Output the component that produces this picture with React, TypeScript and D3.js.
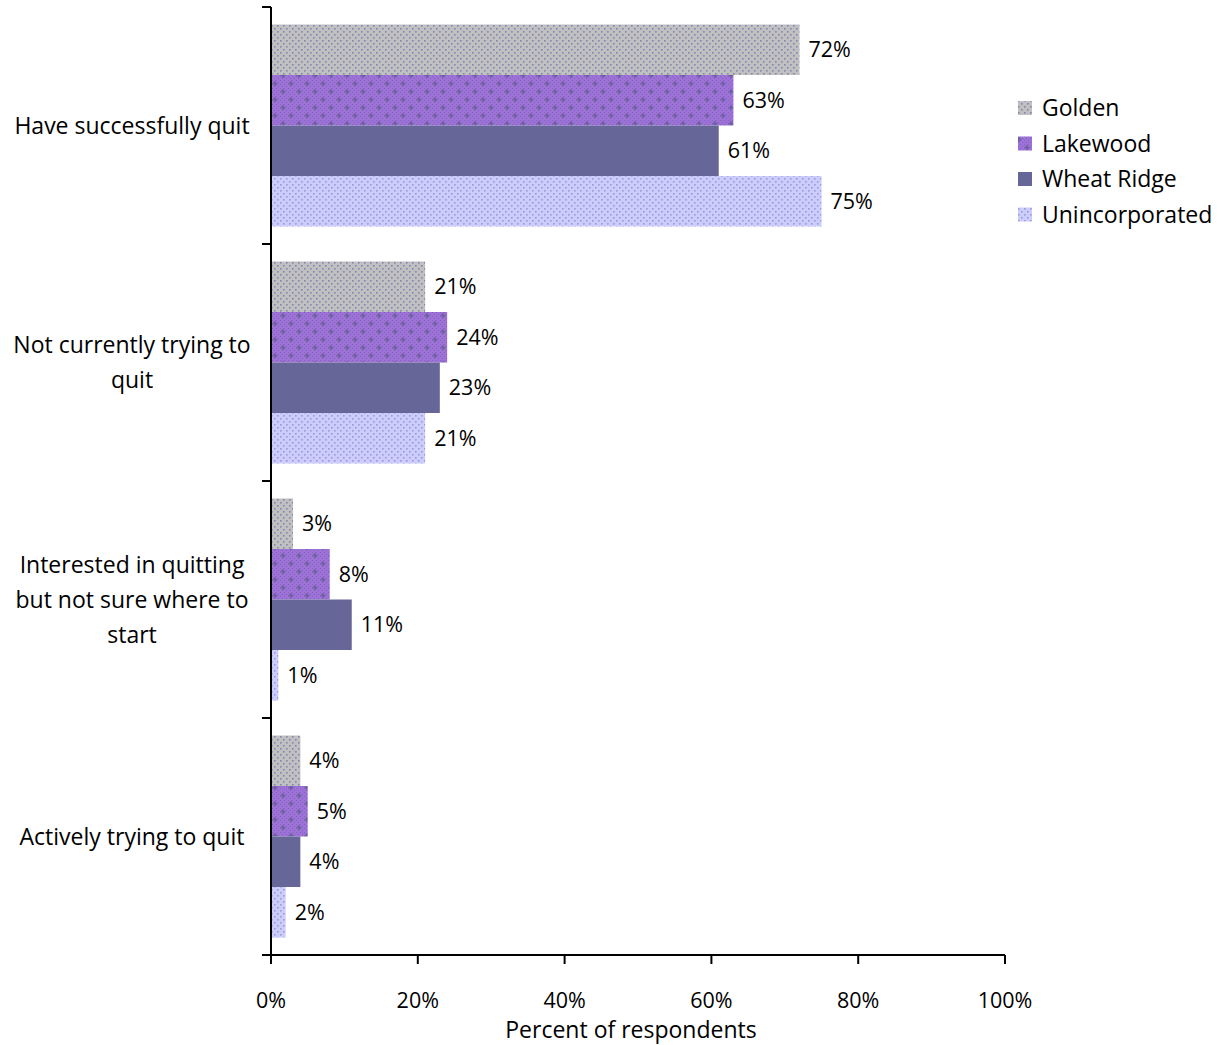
import React from "react";
import * as d3 from "d3";

const categories = [
  ["Have successfully quit"],
  ["Not currently trying to", "quit"],
  ["Interested in quitting", "but not sure where to", "start"],
  ["Actively trying to quit"],
];
const seriesNames = ["Golden", "Lakewood", "Wheat Ridge", "Unincorporated"];
const golden = [72, 21, 3, 4];
const lakewood = [63, 24, 8, 5];
const wheatRidge = [61, 23, 11, 4];
const unincorporated = [75, 21, 1, 2];
const xTicks = [0, 20, 40, 60, 80, 100];

const seriesValues = [golden, lakewood, wheatRidge, unincorporated];
const fills = ["url(#pGolden)", "url(#pLakewood)", "#666699", "url(#pUninc)"];

const FONT = "'Open Sans', sans-serif";
const TXT = 23;
const NUM = 21.5;

export default function App() {
  const W = 1223, H = 1045;
  const x0 = 271, x1 = 1005, yTop = 7, yBot = 955;
  const x = d3.scaleLinear().domain([0, 100]).range([x0, x1]);
  const y = d3.scaleBand<number>().domain(d3.range(categories.length)).range([yTop, yBot]).paddingInner(0).paddingOuter(0);
  const bw = y.bandwidth();
  const groupPad = 17.5;
  const inner = d3.scaleBand<number>().domain(d3.range(seriesNames.length)).range([groupPad, bw - groupPad]).padding(0);
  const bh = inner.bandwidth();

  return (
    <svg width={W} height={H} style={{ position: "absolute", left: 0, top: 0, background: "#fff" }} fontFamily={FONT}>
      <defs>
        <pattern id="pGolden" width="6" height="6" patternUnits="userSpaceOnUse">
          <rect width="6" height="6" fill="#c0c0c0" />
          <rect x="1" y="1" width="1.6" height="1.6" fill="#8585b5" />
          <rect x="4" y="4" width="1.6" height="1.6" fill="#8585b5" />
        </pattern>
        <pattern id="pLakewood" width="16" height="16" patternUnits="userSpaceOnUse">
          <rect width="16" height="16" fill="#9c72d6" />
          {d3.range(8).flatMap((i) => d3.range(8).map((j) => ((i + j) % 2 === 0 ? <rect key={`${i}-${j}`} x={i * 2} y={j * 2} width="1" height="1" fill="#8a5fc2" /> : null)))}
          <path d="M3 1v5M0.5 3.5h5M11 9v5M8.5 11.5h5" stroke="#6b5f9f" strokeWidth="1.5" />
        </pattern>
        <pattern id="pUninc" width="6" height="6" patternUnits="userSpaceOnUse">
          <rect width="6" height="6" fill="#ccccff" />
          <rect x="1" y="1" width="1.6" height="1.6" fill="#9a9acc" />
          <rect x="4" y="4" width="1.6" height="1.6" fill="#9a9acc" />
        </pattern>
      </defs>

      {categories.map((_, ci) =>
        seriesValues.map((vals, si) => {
          const by = (y(ci) as number) + (inner(si) as number);
          return (
            <g key={`${ci}-${si}`}>
              <rect x={x(0)} y={by} width={x(vals[ci]) - x(0)} height={bh} fill={fills[si]} />
              <text x={x(vals[ci]) + 9} y={by + bh / 2} dy="0.35em" fontSize={NUM} fill="#000">
                {vals[ci]}%
              </text>
            </g>
          );
        })
      )}

      {/* y axis */}
      <line x1={x0} x2={x0} y1={yTop} y2={yBot} stroke="#000" strokeWidth={2} />
      {d3.range(categories.length + 1).map((i) => {
        const ty = yTop + i * bw;
        return <line key={i} x1={x0 - 9} x2={x0} y1={ty} y2={ty} stroke="#000" strokeWidth={2} />;
      })}
      {categories.map((lines, ci) => {
        const cy = (y(ci) as number) + bw / 2;
        const lh = 35;
        return (
          <text key={ci} x={132} textAnchor="middle" fontSize={TXT} fill="#000">
            {lines.map((l, li) => (
              <tspan key={li} x={132} y={cy + (li - (lines.length - 1) / 2) * lh} dy="0.35em">
                {l}
              </tspan>
            ))}
          </text>
        );
      })}

      {/* x axis */}
      <line x1={x0 - 9} x2={x1} y1={yBot} y2={yBot} stroke="#000" strokeWidth={2} />
      {xTicks.map((t) => (
        <g key={t}>
          <line x1={x(t)} x2={x(t)} y1={yBot} y2={yBot + 9} stroke="#000" strokeWidth={2} />
          <text x={x(t)} y={1000} dy="0.35em" textAnchor="middle" fontSize={NUM} fill="#000">
            {t}%
          </text>
        </g>
      ))}
      <text x={631} y={1030} dy="0.35em" textAnchor="middle" fontSize={TXT} fill="#000">
        Percent of respondents
      </text>

      {/* legend */}
      {seriesNames.map((n, i) => {
        const ly = 108 + i * 35.5;
        return (
          <g key={n}>
            <rect x={1018} y={ly - 7} width={14} height={14} fill={fills[i]} />
            <text x={1042} y={ly} dy="0.35em" fontSize={TXT} fill="#000">
              {n}
            </text>
          </g>
        );
      })}
    </svg>
  );
}
